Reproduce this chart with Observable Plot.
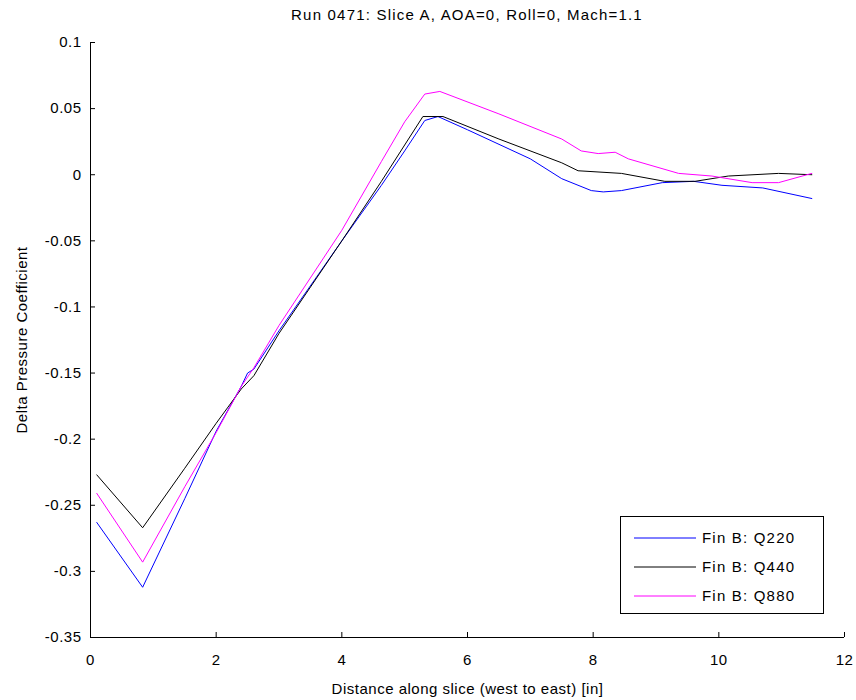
<!DOCTYPE html>
<html><head><meta charset="utf-8">
<script src="https://cdn.jsdelivr.net/npm/d3@7"></script>
<script src="https://cdn.jsdelivr.net/npm/@observablehq/plot@0.6"></script>
<style>
body{margin:0;background:#fff;}
#wrap{position:relative;width:856px;height:700px;font-family:"Liberation Sans",Arial,sans-serif;color:#000;background:#fff;}
#title{height:30px;box-sizing:border-box;padding-left:90px;padding-right:12px;text-align:center;font-size:15px;letter-spacing:1.2px;line-height:30px;white-space:nowrap;}
#legend{position:absolute;left:620px;top:516px;width:204px;height:98px;border:1px solid #000;background:#fff;box-sizing:border-box;font-size:15px;letter-spacing:1.2px;padding-top:6px;}
#legend .row{display:flex;align-items:center;height:29px;}
#legend svg{margin-left:13px;margin-right:6px;}
svg text{letter-spacing:0.5px;}
</style>
</head><body>
<div id="wrap">
<div id="title"></div>
<div id="chart"></div>
<div id="legend"></div>
</div>
<script>
const titleText = "Run 0471: Slice A, AOA=0, Roll=0, Mach=1.1";
const xTitle = "Distance along slice (west to east) [in]";
const yTitle = "Delta Pressure Coefficient";
const seriesNames = ["Fin B: Q220", "Fin B: Q440", "Fin B: Q880"];
const seriesColors = ["#0000ff", "#000000", "#ff00ff"];
const xTicks = [0, 2, 4, 6, 8, 10, 12];
const yTicks = [-0.35, -0.3, -0.25, -0.2, -0.15, -0.1, -0.05, 0, 0.05, 0.1];

const xQ220 = [0.1, 0.83, 1.5, 2.0, 2.4, 2.5, 2.6, 3.0, 4.0, 4.63, 5.0, 5.32, 5.53, 6.0, 7.0, 7.5, 7.97, 8.16, 8.45, 9.1, 9.6, 10.05, 10.7, 11.48];
const yQ220 = [-0.263, -0.312, -0.245, -0.194, -0.160, -0.150, -0.147, -0.118, -0.050, -0.008, 0.018, 0.041, 0.044, 0.034, 0.012, -0.003, -0.012, -0.013, -0.012, -0.006, -0.005, -0.008, -0.010, -0.018];

const xQ440 = [0.1, 0.83, 1.5, 2.0, 2.4, 2.6, 3.0, 4.0, 4.63, 5.29, 5.61, 6.5, 7.5, 7.76, 8.45, 9.14, 9.62, 10.15, 10.95, 11.48];
const yQ440 = [-0.227, -0.267, -0.222, -0.188, -0.162, -0.152, -0.120, -0.050, -0.005, 0.044, 0.044, 0.027, 0.009, 0.003, 0.001, -0.005, -0.005, -0.001, 0.001, 0.000];

const xQ880 = [0.1, 0.83, 1.5, 2.0, 2.4, 2.6, 3.0, 4.0, 4.63, 5.0, 5.32, 5.56, 6.5, 7.5, 7.81, 8.08, 8.35, 8.56, 9.36, 9.89, 10.53, 10.95, 11.48];
const yQ880 = [-0.241, -0.293, -0.236, -0.195, -0.160, -0.146, -0.114, -0.042, 0.010, 0.040, 0.061, 0.063, 0.046, 0.027, 0.018, 0.016, 0.017, 0.012, 0.001, -0.001, -0.006, -0.006, 0.001];

const seriesX = [xQ220, xQ440, xQ880];
const seriesY = [yQ220, yQ440, yQ880];
const data = [];
seriesNames.forEach((name, i) => {
  seriesX[i].forEach((x, j) => data.push({series: name, x, y: seriesY[i][j]}));
});

document.getElementById("title").textContent = titleText;

const W = 856, H = 670, mT = 12, mB = 63, mL = 90, mR = 12;
const fmt = d => String(Math.round(d * 100) / 100);

const chart = Plot.plot({
  width: W, height: H,
  marginTop: mT, marginBottom: mB, marginLeft: mL, marginRight: mR,
  style: {fontFamily: "'Liberation Sans', Arial, sans-serif", fontSize: "15px", color: "#000", background: "#fff", overflow: "visible"},
  x: {domain: [0, 12]},
  y: {domain: [-0.35, 0.1]},
  color: {domain: seriesNames, range: seriesColors},
  marks: [
    Plot.axisX(xTicks, {tickSize: 0, tickPadding: 17, tickFormat: d => String(d), label: xTitle, labelAnchor: "center", labelArrow: "none", labelOffset: 56}),
    Plot.axisY(yTicks, {tickSize: 0, tickPadding: 9, tickFormat: fmt, label: yTitle, labelAnchor: "center", labelArrow: "none", labelOffset: 74}),
    Plot.tickX(xTicks, {x: d => d, insetTop: H - mT - mB - 5, stroke: "#000"}),
    Plot.tickY(yTicks, {y: d => d, insetRight: W - mL - mR - 5, stroke: "#000"}),
    Plot.ruleX([0], {stroke: "#000"}),
    Plot.ruleY([-0.35], {stroke: "#000"}),
    Plot.line(data, {x: "x", y: "y", z: "series", stroke: "series", strokeWidth: 1})
  ]
});
document.getElementById("chart").appendChild(chart);

const legend = document.getElementById("legend");
seriesNames.forEach((name, i) => {
  const row = document.createElement("div");
  row.className = "row";
  row.innerHTML = `<svg width="62" height="4"><line x1="0" x2="62" y1="2" y2="2" stroke="${seriesColors[i]}" stroke-width="1"/></svg><span></span>`;
  row.querySelector("span").textContent = name;
  legend.appendChild(row);
});
</script>
</body></html>
